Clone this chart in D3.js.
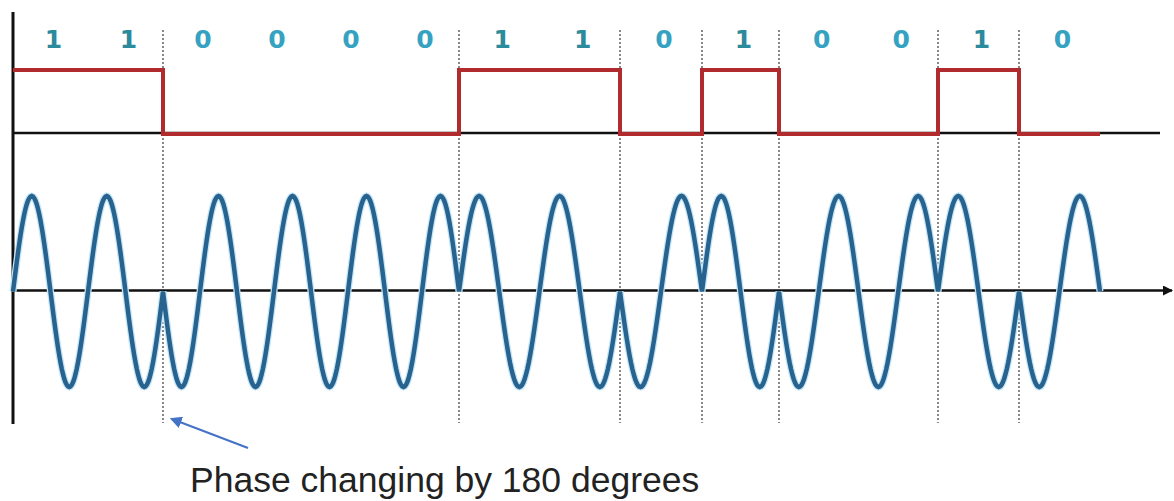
<!DOCTYPE html>
<html>
<head>
<meta charset="utf-8">
<script src="https://cdn.jsdelivr.net/npm/d3@7"></script>
<style>
  body { margin: 0; background: #fff; }
  svg { display: block; }
</style>
</head>
<body>
<div id="chart"></div>
<script>
// BPSK diagram: bit stream, square wave and phase-shifted carrier

// Data
const bits = [1, 1, 0, 0, 0, 0, 1, 1, 0, 1, 0, 0, 1, 0];
const bitLabels = bits.map(String);
const annotationText = "Phase changing by 180 degrees";

const width = 1174, height = 501;

const svg = d3.select("#chart")
  .append("svg")
  .attr("width", width)
  .attr("height", height);

// bit boundaries where the value flips (plus start/end)
const changes = bits.map((b, i) => i).filter(i => i > 0 && bits[i] !== bits[i - 1]);
const domain = [0, ...changes, bits.length];

// the drawing is not evenly spaced, so a piecewise x scale
const x = d3.scaleLinear()
  .domain(domain)
  .range([13, 163, 459, 620, 702, 779, 938, 1019, 1100]);

const ySquare = d3.scaleLinear().domain([0, 1]).range([134, 70]);
const yWave = d3.scaleLinear().domain([-1, 1]).range([387, 196]);

// dotted separators at phase changes
svg.append("g")
  .selectAll("line")
  .data(changes)
  .enter().append("line")
  .attr("x1", d => x(d))
  .attr("x2", d => x(d))
  .attr("y1", 30)
  .attr("y2", 423)
  .attr("stroke", "#555")
  .attr("stroke-width", 1.4)
  .attr("stroke-dasharray", "2,2");

// axes
svg.append("line")
  .attr("x1", 13).attr("x2", 13)
  .attr("y1", 12).attr("y2", 424)
  .attr("stroke", "#111")
  .attr("stroke-width", 3);

svg.append("line")
  .attr("x1", 13).attr("x2", 1160)
  .attr("y1", ySquare(0) - 1).attr("y2", ySquare(0) - 1)
  .attr("stroke", "#111")
  .attr("stroke-width", 2.5);

svg.append("defs").append("marker")
  .attr("id", "axis-arrow")
  .attr("viewBox", "0 0 10 10")
  .attr("refX", 9).attr("refY", 5)
  .attr("markerWidth", 4).attr("markerHeight", 4)
  .attr("markerUnits", "strokeWidth")
  .attr("orient", "auto")
  .append("path")
  .attr("d", "M0,0L10,5L0,10z")
  .attr("fill", "#111");

svg.append("line")
  .attr("x1", 13).attr("x2", 1172)
  .attr("y1", yWave(0) - 1).attr("y2", yWave(0) - 1)
  .attr("stroke", "#111")
  .attr("stroke-width", 2.5)
  .attr("marker-end", "url(#axis-arrow)");

// bit labels
svg.append("g")
  .selectAll("text")
  .data(bitLabels)
  .enter().append("text")
  .attr("x", (d, i) => x(i + 0.5) + 3)
  .attr("y", 48)
  .attr("text-anchor", "middle")
  .style("font-family", "DejaVu Sans")
  .style("font-weight", "bold")
  .style("font-size", "25px")
  .attr("fill", d => d === "1" ? "#2b8a9b" : "#35a2c2")
  .text(d => d);

// square wave
const squarePts = bits.map((b, i) => [i, b]).concat([[bits.length, bits[bits.length - 1]]]);
const stepLine = d3.line()
  .x(d => x(d[0]))
  .y(d => ySquare(d[1]))
  .curve(d3.curveStepAfter);

svg.append("path")
  .datum(squarePts)
  .attr("fill", "none")
  .attr("stroke", "#b02a2e")
  .attr("stroke-width", 4)
  .attr("d", stepLine);

// carrier: one cycle per bit, inverted for 0
const wavePts = [];
bits.forEach((b, i) => {
  const sign = b ? 1 : -1;
  for (let k = 0; k <= 60; k++) {
    const t = k / 60;
    wavePts.push([i + t, sign * Math.sin(2 * Math.PI * t)]);
  }
});

const waveLine = d3.line()
  .x(d => x(d[0]))
  .y(d => yWave(d[1]));

svg.append("path")
  .datum(wavePts)
  .attr("fill", "none")
  .attr("stroke", "#c4e6f7")
  .attr("stroke-width", 7)
  .attr("d", waveLine);

svg.append("path")
  .datum(wavePts)
  .attr("fill", "none")
  .attr("stroke", "#28638f")
  .attr("stroke-width", 4.5)
  .attr("d", waveLine);

// annotation arrow
svg.select("defs").append("marker")
  .attr("id", "note-arrow")
  .attr("viewBox", "0 0 10 10")
  .attr("refX", 8).attr("refY", 5)
  .attr("markerWidth", 6).attr("markerHeight", 6)
  .attr("markerUnits", "strokeWidth")
  .attr("orient", "auto")
  .append("path")
  .attr("d", "M0,0L10,5L0,10z")
  .attr("fill", "#4472c4");

svg.append("line")
  .attr("x1", 248).attr("y1", 448)
  .attr("x2", 172).attr("y2", 419)
  .attr("stroke", "#4472c4")
  .attr("stroke-width", 2)
  .attr("marker-end", "url(#note-arrow)");

svg.append("text")
  .attr("x", 190)
  .attr("y", 492)
  .style("font-family", "Liberation Sans, Arial, sans-serif")
  .style("font-size", "35.5px")
  .attr("fill", "#222")
  .text(annotationText);
</script>
</body>
</html>
